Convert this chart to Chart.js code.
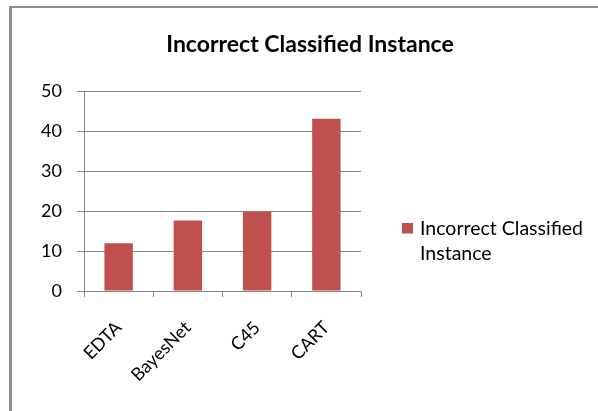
<!DOCTYPE html>
<html>
<head>
<meta charset="utf-8">
<script src="https://cdn.jsdelivr.net/npm/chart.js@4/dist/chart.umd.min.js"></script>
<style>
  html, body { margin: 0; padding: 0; background: #ffffff; }
  #wrap { position: relative; width: 598px; height: 411px; }
</style>
</head>
<body>
<div id="wrap"><canvas id="chart" width="598" height="411"></canvas></div>
<script>
// Categories and values
const categories = ['EDTA', 'BayesNet', 'C45', 'CART'];
const incorrectClassified = [12, 17.7, 19.9, 43.2];
const seriesName = 'Incorrect Classified Instance';
const legendLines = ['Incorrect Classified', 'Instance'];
const chartTitle = 'Incorrect Classified Instance';

const barColor = '#C0504D';
const axisGray = '#868686';
const fontFamily = 'Lato, Carlito, Calibri, sans-serif';

// Frame around the chart object
const framePlugin = {
  id: 'frame',
  beforeDraw(chart) {
    const ctx = chart.ctx;
    ctx.save();
    ctx.fillStyle = '#ffffff';
    ctx.fillRect(0, 0, chart.width, chart.height);
    ctx.fillStyle = '#8e8e8e';
    ctx.fillRect(9, 6, 3, chart.height - 6);
    ctx.fillRect(9, 6, chart.width - 9, 2);
    ctx.restore();
  }
};

// Series key drawn in the space reserved on the right of the plot
const seriesKeyPlugin = {
  id: 'seriesKey',
  afterDraw(chart) {
    const ctx = chart.ctx;
    const ds = chart.data.datasets[0];
    const x0 = chart.chartArea.right + 41;
    ctx.save();
    ctx.fillStyle = ds.backgroundColor;
    ctx.fillRect(x0, 223, 11, 10.5);
    ctx.fillStyle = '#000000';
    ctx.font = '19.5px ' + fontFamily;
    ctx.textAlign = 'left';
    ctx.textBaseline = 'alphabetic';
    legendLines.forEach((line, i) => {
      ctx.fillText(line, x0 + 18, 235 + i * 24.5);
    });
    ctx.restore();
  }
};

new Chart(document.getElementById('chart'), {
  type: 'bar',
  data: {
    labels: categories,
    datasets: [{
      label: seriesName,
      data: incorrectClassified,
      backgroundColor: barColor,
      borderWidth: 0,
      categoryPercentage: 1,
      barPercentage: 0.41
    }]
  },
  plugins: [framePlugin, seriesKeyPlugin],
  options: {
    responsive: false,
    animation: false,
    devicePixelRatio: 1,
    layout: { padding: { left: 22, right: 0, top: 0, bottom: 0 } },
    plugins: {
      title: {
        display: true,
        text: chartTitle,
        color: '#000000',
        font: { family: fontFamily, size: 23, weight: 'bold' },
        padding: { top: 31, bottom: 33 }
      },
      legend: { display: false },
      tooltip: { enabled: false }
    },
    scales: {
      x: {
        offset: true,
        afterFit(scale) { scale.height = 120; },
        grid: {
          offset: true,
          drawOnChartArea: false,
          drawTicks: true,
          tickLength: 6,
          color: axisGray
        },
        border: { display: true, color: axisGray, width: 1 },
        ticks: {
          color: '#000000',
          font: { family: fontFamily, size: 18 },
          minRotation: 45,
          maxRotation: 45,
          autoSkip: false,
          padding: 20
        }
      },
      y: {
        min: 0,
        max: 50,
        afterFit(scale) { scale.width = 62; },
        ticks: {
          stepSize: 10,
          color: '#000000',
          font: { family: fontFamily, size: 18 },
          padding: 15
        },
        grid: {
          color: axisGray,
          drawTicks: true,
          tickLength: 7,
          lineWidth: 1
        },
        border: { display: true, color: axisGray, width: 1 }
      },
      keySpace: {
        type: 'linear',
        position: 'right',
        display: true,
        afterFit(scale) { scale.width = 237; },
        grid: { display: false },
        border: { display: false },
        ticks: { display: false }
      }
    }
  }
});
</script>
</body>
</html>
